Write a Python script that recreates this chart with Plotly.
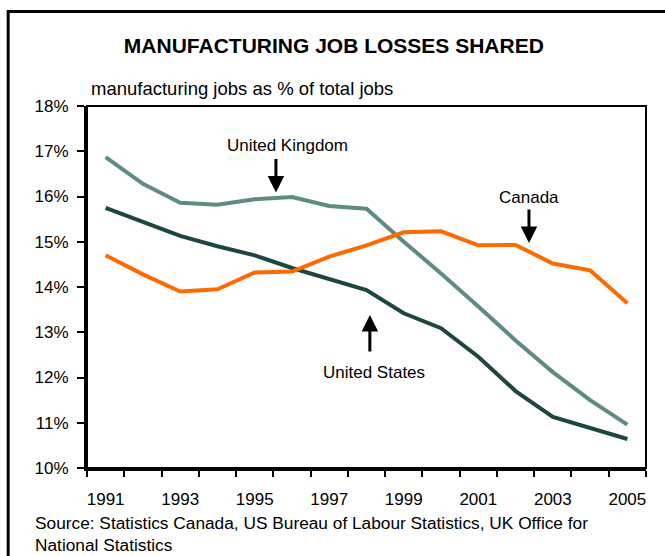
import plotly.graph_objects as go

# Manufacturing jobs as a share of total employment (%)
years = list(range(1991, 2006))
uk = [16.87, 16.28, 15.86, 15.82, 15.94, 15.99, 15.79, 15.73, 15.00, 14.30,
      13.57, 12.82, 12.12, 11.50, 10.96]
us = [15.75, 15.44, 15.13, 14.90, 14.70, 14.42, 14.18, 13.93, 13.42, 13.09,
      12.46, 11.70, 11.13, 10.88, 10.64]
canada = [14.70, 14.28, 13.90, 13.95, 14.32, 14.34, 14.67, 14.92, 15.21, 15.23,
          14.92, 14.93, 14.52, 14.37, 13.64]

x_tick_years = [1991, 1993, 1995, 1997, 1999, 2001, 2003, 2005]
x_tick_labels = [str(y) for y in x_tick_years]
y_ticks = [10, 11, 12, 13, 14, 15, 16, 17, 18]
y_tick_labels = [f"{v}%" for v in y_ticks]

FONT = "Liberation Sans, Arial, sans-serif"

fig = go.Figure()
fig.add_trace(go.Scatter(x=years, y=uk, mode="lines", name="United Kingdom",
                         line=dict(color="#5E8E7A", width=4)))
fig.add_trace(go.Scatter(x=years, y=us, mode="lines", name="United States",
                         line=dict(color="#1E4640", width=4)))
fig.add_trace(go.Scatter(x=years, y=canada, mode="lines", name="Canada",
                         line=dict(color="#FF6A00", width=4)))

boundaries = [y - 0.5 for y in years] + [years[-1] + 0.5]

fig.update_xaxes(
    range=[years[0] - 0.5, years[-1] + 0.5],
    tickvals=x_tick_years, ticktext=x_tick_labels, ticks="",
    ticklabelstandoff=14,
    minor=dict(tickvals=boundaries, ticks="outside", ticklen=6,
               tickwidth=2, tickcolor="black"),
    showline=True, linecolor="black", linewidth=3,
    showgrid=False, zeroline=False,
    tickfont=dict(family=FONT, size=17, color="black"),
)
fig.update_yaxes(
    range=[10, 18], tickvals=y_ticks, ticktext=y_tick_labels,
    ticks="outside", ticklen=7, tickwidth=2, tickcolor="black",
    ticklabelstandoff=5,
    showline=True, linecolor="black", linewidth=3,
    showgrid=False, zeroline=False,
    tickfont=dict(family=FONT, size=17, color="black"),
)

arrow_style = dict(showarrow=True, arrowhead=2, arrowsize=1.1, arrowwidth=3,
                   arrowcolor="black", ax=0, text="")
annotations = [
    # series labels with pointer arrows
    dict(x=1995.57, y=16.09, ay=-35, **arrow_style),
    dict(x=1995.89, y=17.13, text="United Kingdom", showarrow=False),
    dict(x=2002.36, y=14.97, ay=-35, **arrow_style),
    dict(x=2002.36, y=15.98, text="Canada", showarrow=False),
    dict(x=1998.09, y=13.38, ay=38, **arrow_style),
    dict(x=1998.2, y=12.12, text="United States", showarrow=False),
    # axis caption
    dict(xref="paper", yref="paper", x=0.004, y=1.049, xanchor="left",
         yanchor="middle", text="manufacturing jobs as % of total jobs",
         showarrow=False, font=dict(family=FONT, size=18.5, color="black")),
    # source note
    dict(xref="paper", yref="paper", x=-0.097, y=-0.118, xanchor="left",
         yanchor="top", align="left", showarrow=False,
         text="Source: Statistics Canada, US Bureau of Labour Statistics, UK Office for<br>National Statistics",
         font=dict(family=FONT, size=17.3, color="black")),
]
for a in annotations:
    a.setdefault("font", dict(family=FONT, size=17, color="black"))
fig.update_layout(annotations=annotations)

fig.update_layout(
    width=665, height=556,
    margin=dict(l=87, r=19, t=106, b=88),
    paper_bgcolor="white", plot_bgcolor="white",
    showlegend=False,
    title=dict(text="<b>MANUFACTURING JOB LOSSES SHARED</b>",
               x=0.502, xanchor="center", y=0.917, yanchor="middle",
               font=dict(family=FONT, size=21, color="black")),
    shapes=[
        # thin frame around the plotting area
        dict(type="rect", xref="paper", yref="paper", x0=0, y0=0, x1=1, y1=1,
             line=dict(color="black", width=2), layer="above"),
        # outer border of the chart panel
        dict(type="rect", xref="paper", yref="paper", x0=-0.141, y0=-1,
             x1=2, y1=1.261, line=dict(color="black", width=3)),
    ],
)

fig.write_html("out.html")
